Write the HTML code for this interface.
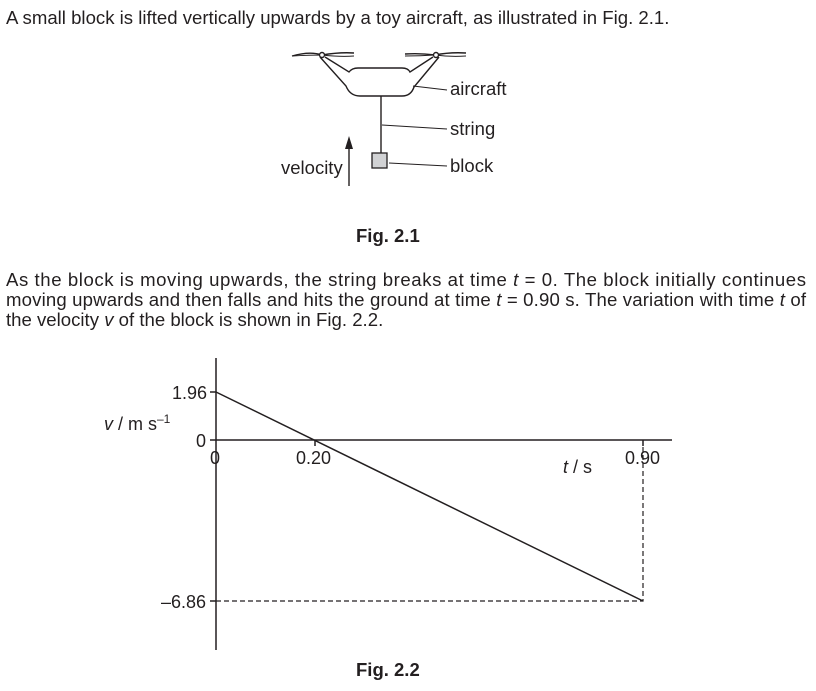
<!DOCTYPE html>
<html><head><style>
html,body{margin:0;padding:0;background:#fff;}
svg{display:block;}
text{font-family:"Liberation Sans",Arial,sans-serif;fill:#231f20;}
</style></head><body>
<svg width="816" height="691" viewBox="0 0 816 691" xmlns="http://www.w3.org/2000/svg">
<text x="6" y="24" font-size="18.6">A small block is lifted vertically upwards by a toy aircraft, as illustrated in Fig. 2.1.</text>
<!-- aircraft -->
<g stroke="#231f20" fill="none" stroke-width="1.4">
<path d="M292 56 Q310 51 322 55 Q340 52 354 53"/>
<path d="M292 56 Q310 55 322 55 Q340 57 354 56" stroke-width="1"/>
<path d="M377 55 Q395 51 435 55 Q450 52 466 53" transform="translate(28,0)" opacity="0"/>
<path d="M405 54 Q420 53 435 55 Q450 52 466 53"/>
<path d="M405 56 Q420 56 435 55 Q450 57 466 56" stroke-width="1"/>
<circle cx="322" cy="55" r="2.5" fill="#fff"/>
<circle cx="436" cy="55" r="2.5" fill="#fff"/>
<path d="M325 57 L349 72 Q352 68 358 68 L402 68 Q408 68 410 72 L433 57"/>
<path d="M320 57 L346 86 Q350 96 360 96 L402 96 Q411 96 414 87 L439 57"/>
<line x1="381" y1="96" x2="381" y2="153"/>
<line x1="413" y1="86" x2="447" y2="90" stroke-width="1"/>
<line x1="382" y1="125" x2="447" y2="129" stroke-width="1"/>
<line x1="389" y1="163" x2="447" y2="166" stroke-width="1"/>
<line x1="349" y1="186" x2="349" y2="148"/>
</g>
<rect x="372" y="153" width="15" height="15" fill="#d1d2d4" stroke="#231f20" stroke-width="1.3"/>
<polygon points="349,136 345,149 353,149" fill="#231f20"/>
<text x="450" y="95" font-size="18.5">aircraft</text>
<text x="450" y="135" font-size="18.5">string</text>
<text x="450" y="172" font-size="18.5">block</text>
<text x="281" y="174" font-size="18.5">velocity</text>
<text x="356" y="242" font-size="18.5" font-weight="bold">Fig. 2.1</text>
<text x="6" y="286" font-size="18.6" textLength="800" lengthAdjust="spacing">As the block is moving upwards, the string breaks at time <tspan font-style="italic">t</tspan> = 0. The block initially continues</text>
<text x="6" y="306" font-size="18.6" textLength="800" lengthAdjust="spacing">moving upwards and then falls and hits the ground at time <tspan font-style="italic">t</tspan> = 0.90 s. The variation with time <tspan font-style="italic">t</tspan> of</text>
<text x="6" y="326" font-size="18.6">the velocity <tspan font-style="italic">v</tspan> of the block is shown in Fig. 2.2.</text>
<!-- graph -->
<g stroke="#231f20" stroke-width="1.5" fill="none">
<line x1="216" y1="358" x2="216" y2="650"/>
<line x1="210" y1="440" x2="672" y2="440"/>
<line x1="210" y1="392" x2="216" y2="392"/>
<line x1="210" y1="601" x2="216" y2="601"/>
<line x1="315" y1="440" x2="315" y2="446"/>
<line x1="643" y1="440" x2="643" y2="446"/>
<line x1="216" y1="392" x2="643" y2="601"/>
<path d="M216 601 L643 601 L643 446" stroke-dasharray="5,3" stroke-width="1.2"/>
</g>
<text x="172" y="399" font-size="18">1.96</text>
<text x="196" y="447" font-size="18">0</text>
<text x="161" y="608" font-size="18">–6.86</text>
<text x="210" y="464" font-size="18">0</text>
<text x="296" y="464" font-size="18">0.20</text>
<text x="625" y="464" font-size="18">0.90</text>
<text x="563" y="473" font-size="18"><tspan font-style="italic">t</tspan> / s</text>
<text x="104" y="430" font-size="18"><tspan font-style="italic">v</tspan> / m s<tspan font-size="12" dy="-7">–1</tspan></text>
<text x="356" y="676" font-size="18.5" font-weight="bold">Fig. 2.2</text>
</svg>
</body></html>
